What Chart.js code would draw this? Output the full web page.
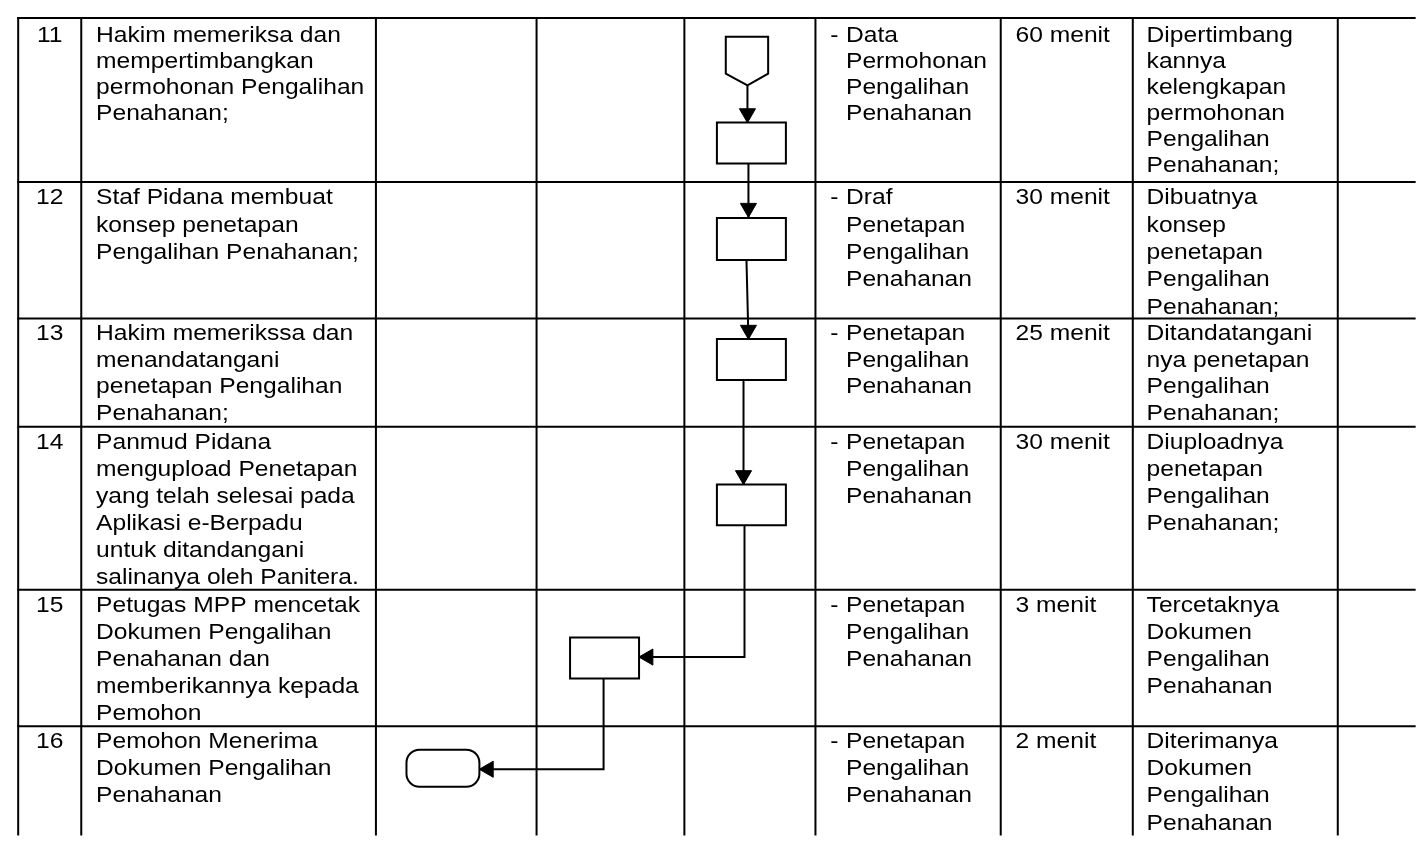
<!DOCTYPE html>
<html>
<head>
<meta charset="utf-8">
<script src="https://cdn.jsdelivr.net/npm/chart.js@4/dist/chart.umd.min.js"></script>
<style>
html,body{margin:0;padding:0;background:#fff;overflow:hidden}
#wrap{width:1421px;height:841px;position:relative}
</style>
</head>
<body>
<div id="wrap"><canvas id="c"></canvas></div>
<script>
// ---------- table content ----------
const rowNumbers = ['11','12','13','14','15','16'];
const activities = [
  ['Hakim memeriksa dan','mempertimbangkan','permohonan Pengalihan','Penahanan;'],
  ['Staf Pidana membuat','konsep penetapan','Pengalihan Penahanan;'],
  ['Hakim memerikssa dan','menandatangani','penetapan Pengalihan','Penahanan;'],
  ['Panmud Pidana','mengupload Penetapan','yang telah selesai pada','Aplikasi e-Berpadu','untuk ditandangani','salinanya oleh Panitera.'],
  ['Petugas MPP mencetak','Dokumen Pengalihan','Penahanan dan','memberikannya kepada','Pemohon'],
  ['Pemohon Menerima','Dokumen Pengalihan','Penahanan']
];
const outputs = [
  ['Data','Permohonan','Pengalihan','Penahanan'],
  ['Draf','Penetapan','Pengalihan','Penahanan'],
  ['Penetapan','Pengalihan','Penahanan'],
  ['Penetapan','Pengalihan','Penahanan'],
  ['Penetapan','Pengalihan','Penahanan'],
  ['Penetapan','Pengalihan','Penahanan']
];
const durations = ['60 menit','30 menit','25 menit','30 menit','3 menit','2 menit'];
const results = [
  ['Dipertimbang','kannya','kelengkapan','permohonan','Pengalihan','Penahanan;'],
  ['Dibuatnya','konsep','penetapan','Pengalihan','Penahanan;'],
  ['Ditandatangani','nya penetapan','Pengalihan','Penahanan;'],
  ['Diuploadnya','penetapan','Pengalihan','Penahanan;'],
  ['Tercetaknya','Dokumen','Pengalihan','Penahanan'],
  ['Diterimanya','Dokumen','Pengalihan','Penahanan']
];

// ---------- table grid (in scale units) ----------
const colLines = [8, 72, 371, 534, 684, 817, 1005, 1139, 1347];
const rowLines = [8, 176, 316, 427, 594, 734];
const rowLineHeight = [26.8, 28, 27.3, 27.6, 27.7, 28];
const rowBaseline = [24, 23, 22, 23, 23, 22];

// ---------- flowchart ----------
const connectorShape = [[726,27],[769,27],[769,65],[748,77],[726,65],[726,27]];
const processBoxes = [
  [717,115,787,157],
  [717,213,787,256],
  [717,337,787,379],
  [717,486,787,528],
  [568,643,638,685]
];
const terminatorBox = [402,758,476,796];
const flowLines = [
  [[748,77],[748,115]],
  [[749,157],[749,212]],
  [[747,256],[749,337]],
  [[744,379],[744,486]],
  [[745,528],[745,663],[638,663]],
  [[602,685],[602,778],[476,778]]
];
// arrow tips: [x, y, direction]
const arrowTips = [
  [748,115,'down'],
  [749,212,'down'],
  [749,337,'down'],
  [744,486,'down'],
  [638,663,'left'],
  [476,778,'left']
];

const W = 1421, H = 841;
const FONT_PX = 21.5, STRETCH = 1.145;
const textX = {no: 40, act: 87, dash: 832, out: 848, dur: 1020, res: 1153};

function lineDs(pts, width, cap) {
  return {
    data: pts.map(p => ({x: p[0], y: p[1]})),
    showLine: true, borderColor: '#000', borderWidth: width,
    pointRadius: 0, pointHoverRadius: 0, fill: false, tension: 0,
    borderCapStyle: cap || 'butt', borderJoinStyle: 'miter', clip: false
  };
}

const datasets = [];
rowLines.forEach(y => datasets.push(lineDs([[colLines[0], y], [W + 4, y]], 2, 'square')));
colLines.forEach(x => datasets.push(lineDs([[x, rowLines[0]], [x, H + 4]], 2, 'square')));
datasets.push(lineDs(connectorShape, 2, 'square'));
processBoxes.forEach(b => datasets.push(lineDs([[b[0],b[1]],[b[2],b[1]],[b[2],b[3]],[b[0],b[3]],[b[0],b[1]]], 2, 'square')));
flowLines.forEach(l => datasets.push(lineDs(l, 2, 'butt')));

const ARROW_R = 9.3;
const dirVec = {down: [0, 1, 180], left: [-1, 0, 270], right: [1, 0, 90], up: [0, -1, 0]};
datasets.push({
  data: arrowTips.map(a => ({x: a[0] - dirVec[a[2]][0] * ARROW_R, y: a[1] - dirVec[a[2]][1] * ARROW_R})),
  showLine: false, pointStyle: 'triangle', pointRadius: ARROW_R, pointHoverRadius: ARROW_R,
  pointRotation: arrowTips.map(a => dirVec[a[2]][2]),
  pointBackgroundColor: '#000', pointBorderColor: '#000', pointBorderWidth: 1, clip: false
});

const tablePlugin = {
  id: 'tableText',
  afterDatasetsDraw(chart) {
    const ctx = chart.ctx, sx = chart.scales.x, sy = chart.scales.y;
    // terminator
    ctx.save();
    const x0 = sx.getPixelForValue(terminatorBox[0]), y0 = sy.getPixelForValue(terminatorBox[1]);
    const x1 = sx.getPixelForValue(terminatorBox[2]), y1 = sy.getPixelForValue(terminatorBox[3]);
    ctx.beginPath();
    ctx.roundRect(x0, y0, x1 - x0, y1 - y0, 13);
    ctx.fillStyle = '#fff'; ctx.fill();
    ctx.lineWidth = 2; ctx.strokeStyle = '#000'; ctx.stroke();
    ctx.restore();

    ctx.save();
    ctx.fillStyle = '#000';
    ctx.font = FONT_PX + "px 'Liberation Sans', Arial, sans-serif";
    ctx.textBaseline = 'alphabetic';
    const put = (txt, x, y, align) => {
      ctx.save();
      ctx.translate(sx.getPixelForValue(x), sy.getPixelForValue(y));
      ctx.scale(STRETCH, 1);
      ctx.textAlign = align || 'left';
      ctx.fillText(txt, 0, 0);
      ctx.restore();
    };
    rowNumbers.forEach((num, i) => {
      const base = rowLines[i] + rowBaseline[i], lh = rowLineHeight[i];
      put(num, textX.no, base, 'center');
      activities[i].forEach((t, k) => put(t, textX.act, base + k * lh));
      put('-', textX.dash, base);
      outputs[i].forEach((t, k) => put(t, textX.out, base + k * lh));
      put(durations[i], textX.dur, base);
      results[i].forEach((t, k) => put(t, textX.res, base + k * lh));
    });
    ctx.restore();
  }
};

new Chart(document.getElementById('c'), {
  type: 'scatter',
  data: {datasets},
  options: {
    responsive: true, maintainAspectRatio: false, animation: false,
    events: [],
    layout: {padding: 0},
    plugins: {legend: {display: false}, tooltip: {enabled: false}},
    scales: {
      x: {type: 'linear', min: 0, max: W, display: false},
      y: {type: 'linear', min: 0, max: H, reverse: true, display: false}
    }
  },
  plugins: [tablePlugin]
});
</script>
</body>
</html>
